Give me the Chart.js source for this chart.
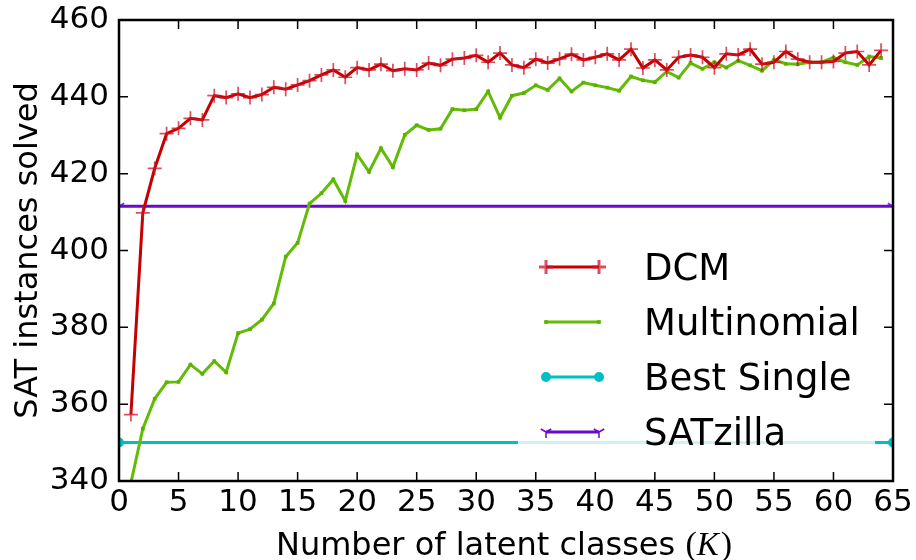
<!DOCTYPE html>
<html>
<head>
<meta charset="utf-8">
<script src="https://cdn.jsdelivr.net/npm/chart.js@4.4.1/dist/chart.umd.min.js"></script>
<style>
  html, body { margin: 0; padding: 0; background: #fff; }
  #wrap { width: 916px; height: 560px; }
</style>
</head>
<body>
<div id="wrap"><canvas id="satChart" width="916" height="560"></canvas></div>
<script>
// number of latent classes K
const kValues = [1, 2, 3, 4, 5, 6, 7, 8, 9, 10, 11, 12, 13, 14, 15, 16,
  17, 18, 19, 20, 21, 22, 23, 24, 25, 26, 27, 28, 29, 30, 31, 32,
  33, 34, 35, 36, 37, 38, 39, 40, 41, 42, 43, 44, 45, 46, 47, 48,
  49, 50, 51, 52, 53, 54, 55, 56, 57, 58, 59, 60, 61, 62, 63, 64];

const dcmSolved = [357.3, 409.8, 421.4, 430.4, 431.8, 434.4, 434.0, 440.3,
  439.8, 440.8, 439.8, 440.6, 442.5, 442.0, 443.1, 444.2,
  445.7, 447.0, 445.1, 447.6, 447.0, 448.5, 446.8, 447.3,
  447.0, 448.8, 448.2, 449.8, 450.1, 450.8, 449.0, 451.4,
  448.3, 447.6, 449.8, 448.8, 449.9, 451.1, 449.6, 450.3,
  451.2, 449.6, 452.4, 447.5, 449.6, 447.0, 450.3, 450.9,
  450.3, 447.6, 451.2, 450.9, 452.4, 448.5, 449.0, 451.8,
  449.8, 449.0, 449.0, 449.2, 451.4, 451.8, 448.3, 452.1];

const multinomialSolved = [339.5, 353.6, 361.4, 365.7, 365.8, 370.3, 367.9, 371.2,
  368.3, 378.5, 379.5, 382.0, 386.2, 398.4, 402.0, 412.2,
  414.9, 418.5, 412.9, 425.0, 420.5, 426.6, 421.7, 430.1,
  432.6, 431.4, 431.7, 436.8, 436.5, 436.8, 441.4, 434.6,
  440.3, 441.0, 443.0, 441.8, 444.8, 441.4, 443.7, 443.0,
  442.4, 441.6, 445.3, 444.3, 443.8, 446.6, 445.0, 448.8,
  447.3, 449.0, 447.6, 449.4, 448.2, 446.8, 449.6, 448.6,
  448.5, 449.0, 449.0, 450.2, 449.0, 448.3, 450.5, 450.1];

const baselineK = [0, 65];
const bestSingleSolved = [350, 350];
const satzillaSolved = [411.5, 411.5];

const xTicks = [0, 5, 10, 15, 20, 25, 30, 35, 40, 45, 50, 55, 60, 65];
const yTicks = [340, 360, 380, 400, 420, 440, 460];

const FONT = "'DejaVu Sans', 'Noto Sans', sans-serif";

function toPoints(xs, ys) {
  return xs.map((x, i) => ({ x: x, y: ys[i] }));
}

// matplotlib-style "tri_down" marker drawn into a small canvas
function triDown(color, r) {
  const c = document.createElement('canvas');
  const s = Math.ceil(r * 2 + 4);
  c.width = s; c.height = s;
  const g = c.getContext('2d');
  const cx = s / 2, cy = s / 2;
  g.strokeStyle = color;
  g.lineWidth = 1.5;
  g.beginPath();
  g.moveTo(cx, cy); g.lineTo(cx, cy + r);
  g.moveTo(cx, cy); g.lineTo(cx + 0.866 * r, cy - 0.5 * r);
  g.moveTo(cx, cy); g.lineTo(cx - 0.866 * r, cy - 0.5 * r);
  g.stroke();
  return c;
}

const purple = '#6a0acc';
const triMarker = triDown(purple, 6);

// inward ticks on all four sides plus the black frame
const frameTicks = {
  id: 'frameTicks',
  afterDatasetsDraw(chart) {
    const { ctx, chartArea: a } = chart;
    const xs = chart.scales.x, ys = chart.scales.y;
    ctx.save();
    ctx.strokeStyle = '#000';
    ctx.lineWidth = 1.5;
    ctx.beginPath();
    xTicks.forEach(v => {
      const px = xs.getPixelForValue(v);
      ctx.moveTo(px, a.bottom); ctx.lineTo(px, a.bottom - 9);
      ctx.moveTo(px, a.top); ctx.lineTo(px, a.top + 9);
    });
    yTicks.forEach(v => {
      const py = ys.getPixelForValue(v);
      ctx.moveTo(a.left, py); ctx.lineTo(a.left + 9, py);
      ctx.moveTo(a.right, py); ctx.lineTo(a.right - 9, py);
    });
    ctx.stroke();
    ctx.lineWidth = 2.5;
    ctx.strokeRect(a.left, a.top, a.right - a.left, a.bottom - a.top);
    ctx.restore();
  }
};

// legend in the lower right of the plot, line + two markers per entry
const innerLegend = {
  id: 'innerLegend',
  afterDraw(chart) {
    const ctx = chart.ctx;
    ctx.save();
    ctx.fillStyle = 'rgba(255,255,255,0.8)';
    ctx.fillRect(518, 237, 357, 231);
    const x0 = 546, x1 = 599, rowY = [267, 322, 377, 432];
    chart.data.datasets.forEach((ds, i) => {
      const y = rowY[i];
      ctx.strokeStyle = ds.borderColor;
      ctx.lineWidth = ds.borderWidth;
      ctx.beginPath();
      ctx.moveTo(x0, y); ctx.lineTo(x1, y);
      ctx.stroke();
      [x0, x1].forEach(px => {
        ctx.strokeStyle = ds.pointBorderColor;
        ctx.fillStyle = ds.pointBackgroundColor;
        Chart.helpers.drawPoint(ctx, {
          pointStyle: ds.pointStyle,
          radius: ds.pointRadius,
          borderWidth: ds.pointBorderWidth,
          rotation: 0
        }, px, y);
      });
      ctx.fillStyle = '#000';
      ctx.font = "37px " + FONT;
      ctx.textAlign = 'left';
      ctx.textBaseline = 'middle';
      ctx.fillText(ds.label, 644, y + 3);
    });
    ctx.restore();
  }
};

// x axis title with math italic K
const xTitle = {
  id: 'xTitle',
  afterDraw(chart) {
    const ctx = chart.ctx;
    const a = chart.chartArea;
    const base = 555;
    const part1 = 'Number of latent classes ';
    ctx.save();
    ctx.fillStyle = '#000';
    ctx.textBaseline = 'alphabetic';
    ctx.textAlign = 'left';
    const f1 = "32px " + FONT;
    const fp = "34px 'Liberation Serif', 'DejaVu Serif', serif";
    const fk = "italic 33px 'Liberation Serif', 'DejaVu Serif', serif";
    ctx.font = f1; const w1 = ctx.measureText(part1).width;
    ctx.font = fp; const wp = ctx.measureText('(').width;
    ctx.font = fk; const wk = ctx.measureText('K').width + 2;
    const total = w1 + wp * 2 + wk;
    let x = (a.left + a.right) / 2 - total / 2 - 2;
    ctx.font = f1; ctx.fillText(part1, x, base); x += w1;
    ctx.font = fp; ctx.fillText('(', x, base); x += wp;
    ctx.font = fk; ctx.fillText('K', x, base); x += wk;
    ctx.font = fp; ctx.fillText(')', x, base);
    ctx.restore();
  }
};

new Chart(document.getElementById('satChart'), {
  type: 'line',
  data: {
    datasets: [
      {
        label: 'DCM',
        data: toPoints(kValues, dcmSolved),
        borderColor: '#c40000',
        borderWidth: 3,
        pointStyle: 'cross',
        pointRadius: 7,
        pointBorderWidth: 1.7,
        pointBorderColor: 'rgba(205,20,40,0.75)',
        pointBackgroundColor: 'rgba(205,20,40,0.75)',
        tension: 0,
        clip: 0
      },
      {
        label: 'Multinomial',
        data: toPoints(kValues, multinomialSolved),
        borderColor: '#62bb06',
        borderWidth: 3,
        pointStyle: 'rect',
        pointRadius: 2.6,
        pointBorderWidth: 0,
        pointBorderColor: '#5cb000',
        pointBackgroundColor: '#5cb000',
        tension: 0,
        clip: 0
      },
      {
        label: 'Best Single',
        data: toPoints(baselineK, bestSingleSolved),
        borderColor: '#00bfc4',
        borderWidth: 3,
        pointStyle: 'circle',
        pointRadius: 5,
        pointBorderWidth: 0,
        pointBorderColor: '#00bfc4',
        pointBackgroundColor: '#00bfc4',
        tension: 0,
        clip: 0
      },
      {
        label: 'SATzilla',
        data: toPoints(baselineK, satzillaSolved),
        borderColor: purple,
        borderWidth: 3,
        pointStyle: triMarker,
        pointRadius: 6,
        pointBorderWidth: 1.5,
        pointBorderColor: purple,
        pointBackgroundColor: purple,
        tension: 0,
        clip: 0
      }
    ]
  },
  options: {
    responsive: false,
    animation: false,
    devicePixelRatio: 1,
    layout: { padding: { top: 20, right: 23, left: 0, bottom: 0 } },
    plugins: {
      legend: { display: false },
      tooltip: { enabled: false }
    },
    scales: {
      x: {
        type: 'linear',
        min: 0,
        max: 65,
        afterBuildTicks: s => { s.ticks = xTicks.map(v => ({ value: v })); },
        afterFit: s => { s.height = 79; s.paddingLeft = 0; s.paddingRight = 0; },
        grid: { display: false, drawTicks: false },
        border: { display: false },
        ticks: {
          color: '#000',
          font: { family: FONT, size: 31 },
          padding: 3,
          maxRotation: 0,
          autoSkip: false
        }
      },
      y: {
        type: 'linear',
        min: 340,
        max: 460,
        afterBuildTicks: s => { s.ticks = yTicks.map(v => ({ value: v })); },
        afterFit: s => { s.width = 119; s.paddingTop = 0; s.paddingBottom = 0; },
        grid: { display: false, drawTicks: false },
        border: { display: false },
        ticks: {
          color: '#000',
          font: { family: FONT, size: 31 },
          padding: 10
        },
        title: {
          display: true,
          text: 'SAT instances solved',
          color: '#000',
          font: { family: FONT, size: 32 },
          padding: { top: 9, bottom: 0 }
        }
      }
    }
  },
  plugins: [frameTicks, innerLegend, xTitle]
});
</script>
</body>
</html>
